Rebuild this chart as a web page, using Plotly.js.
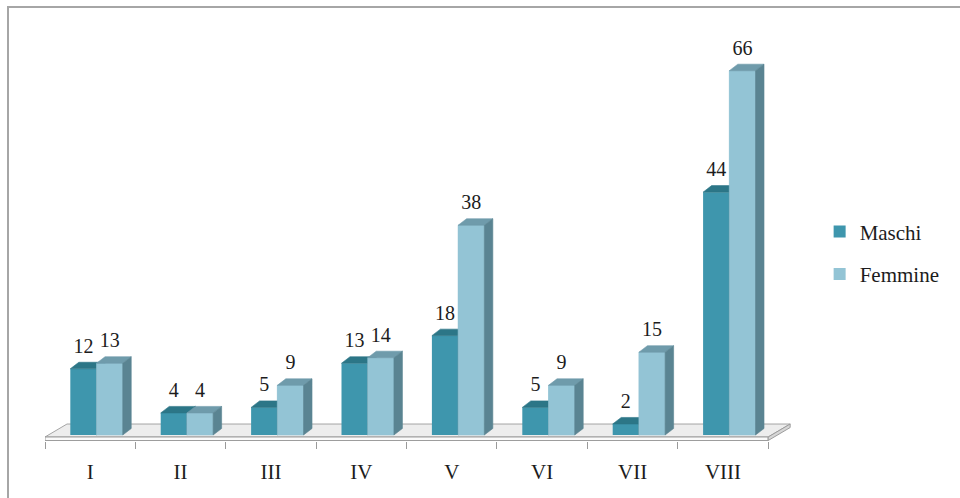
<!DOCTYPE html>
<html>
<head>
<meta charset="utf-8">
<script src="https://cdn.plot.ly/plotly-3.0.1.min.js"></script>
<style>html,body{margin:0;padding:0;background:#fff;}#chart{width:960px;height:498px;}</style>
</head>
<body>
<div id="chart"></div>
<script>
// ---- data ----
const categories = ['I', 'II', 'III', 'IV', 'V', 'VI', 'VII', 'VIII'];
const maschi = [12, 4, 5, 13, 18, 5, 2, 44];
const femmine = [13, 4, 9, 14, 38, 9, 15, 66];
const seriesNames = ['Maschi', 'Femmine'];

// ---- geometry / style (not data) ----
const M_OFF = -0.22, F_OFF = 0.07, BW = 0.29, DX = 0.094, DY = 1.18, LABEL_UP = 3.8;
const C = {
  mFront: '#3e96ad', mTop: '#2c7687', mSide: '#2b6a79',
  fFront: '#93c4d5', fTop: '#6f9bab', fSide: '#5a8492'
};
const FONT = 'Liberation Serif';
const idx = categories.map((_, i) => i);

function polyTrace(color, builder) {
  const xs = [], ys = [];
  idx.forEach(i => {
    const pts = builder(i);
    pts.forEach(p => { xs.push(p[0]); ys.push(p[1]); });
    xs.push(pts[0][0]); ys.push(pts[0][1]);
    xs.push(null); ys.push(null);
  });
  return {
    type: 'scatter', mode: 'lines', x: xs, y: ys, fill: 'toself',
    fillcolor: color, line: {color: color, width: 0.6},
    hoverinfo: 'skip', showlegend: false
  };
}

const mTop = polyTrace(C.mTop, i => {
  const x0 = i + M_OFF, v = maschi[i];
  return [[x0, v], [x0 + BW, v], [x0 + BW + DX, v + DY], [x0 + DX, v + DY]];
});
const mSide = polyTrace(C.mSide, i => {
  const x1 = i + M_OFF + BW, v = maschi[i];
  return [[x1, 0], [x1 + DX, DY], [x1 + DX, v + DY], [x1, v]];
});
const fFront = polyTrace(C.fFront, i => {
  const x0 = i + F_OFF, v = femmine[i];
  return [[x0, 0], [x0 + BW, 0], [x0 + BW, v], [x0, v]];
});
const fTop = polyTrace(C.fTop, i => {
  const x0 = i + F_OFF, v = femmine[i];
  return [[x0, v], [x0 + BW, v], [x0 + BW + DX, v + DY], [x0 + DX, v + DY]];
});
const fSide = polyTrace(C.fSide, i => {
  const x1 = i + F_OFF + BW, v = femmine[i];
  return [[x1, 0], [x1 + DX, DY], [x1 + DX, v + DY], [x1, v]];
});

const barM = {
  type: 'bar', name: seriesNames[0], x: idx, y: maschi, offset: M_OFF, width: BW,
  marker: {color: C.mFront, line: {width: 0}}, legendgroup: 'm', hoverinfo: 'y+name'
};
const barF = {
  type: 'bar', name: seriesNames[1], x: idx, y: femmine, offset: F_OFF, width: BW,
  marker: {color: C.fFront, line: {width: 0}}, legendgroup: 'f', hoverinfo: 'y+name'
};

const labels = {
  type: 'scatter', mode: 'text', showlegend: false, hoverinfo: 'skip',
  x: idx.map(i => i + M_OFF + BW / 2).concat(idx.map(i => i + F_OFF + BW / 2)),
  y: maschi.map(v => v + LABEL_UP).concat(femmine.map(v => v + LABEL_UP)),
  text: maschi.map(String).concat(femmine.map(String)),
  textposition: 'middle center',
  textfont: {family: FONT, size: 20, color: '#1c1c1c'},
  cliponaxis: false
};

const bounds = [];
for (let b = -0.5; b <= categories.length - 0.5; b += 1) bounds.push(b);

const xLeft = -0.5, xRight = categories.length - 0.5, fdx = 0.243;
const yFront = -0.36, yBack = 1.99, yBottom = -1.0;

const layout = {
  width: 960, height: 498,
  margin: {l: 45, r: 160, t: 40, b: 57},
  paper_bgcolor: '#ffffff', plot_bgcolor: 'rgba(0,0,0,0)',
  font: {family: FONT, color: '#1c1c1c'},
  barmode: 'overlay',
  showlegend: true,
  legend: {
    x: 1.026, xanchor: 'left', y: 0.469, yanchor: 'middle',
    font: {family: FONT, size: 21, color: '#1c1c1c'},
    traceorder: 'grouped', tracegroupgap: 12, bgcolor: 'rgba(0,0,0,0)'
  },
  xaxis: {
    range: [-0.5, 7.852], tickmode: 'array', tickvals: idx, ticktext: categories,
    ticks: '', showgrid: false, zeroline: false, showline: false,
    tickfont: {family: FONT, size: 21, color: '#1c1c1c'},
    ticklabelstandoff: 16,
    minor: {tickmode: 'array', tickvals: bounds, ticks: 'outside', ticklen: 7, tickcolor: '#9a9a9a', tickwidth: 1, showgrid: false},
    fixedrange: true
  },
  yaxis: {
    range: [-1.087, 71.56], visible: false, fixedrange: true
  },
  shapes: [
    {type: 'path', layer: 'below', xref: 'x', yref: 'y',
     path: `M ${xLeft},${yFront} L ${xRight},${yFront} L ${xRight + fdx},${yBack} L ${xLeft + fdx},${yBack} Z`,
     fillcolor: '#ededed', line: {color: '#a4a4a4', width: 1}},
    {type: 'path', layer: 'below', xref: 'x', yref: 'y',
     path: `M ${xLeft},${yBottom} L ${xRight},${yBottom} L ${xRight},${yFront} L ${xLeft},${yFront} Z`,
     fillcolor: '#fafafa', line: {color: '#9c9c9c', width: 1}},
    {type: 'path', layer: 'below', xref: 'x', yref: 'y',
     path: `M ${xRight},${yBottom} L ${xRight + fdx},${yBack - (yFront - yBottom)} L ${xRight + fdx},${yBack} L ${xRight},${yFront} Z`,
     fillcolor: '#d6d6d6', line: {color: '#9c9c9c', width: 1}},
    {type: 'rect', layer: 'below', xref: 'paper', yref: 'paper',
     x0: -0.049, x1: 1.216, y0: -0.16, y1: 1.0823,
     fillcolor: 'rgba(0,0,0,0)', line: {color: '#a6a6a6', width: 2}}
  ]
};

Plotly.newPlot('chart', [barM, barF, mTop, mSide, fFront, fTop, fSide, labels], layout, {displayModeBar: false, staticPlot: true});
</script>
</body>
</html>
